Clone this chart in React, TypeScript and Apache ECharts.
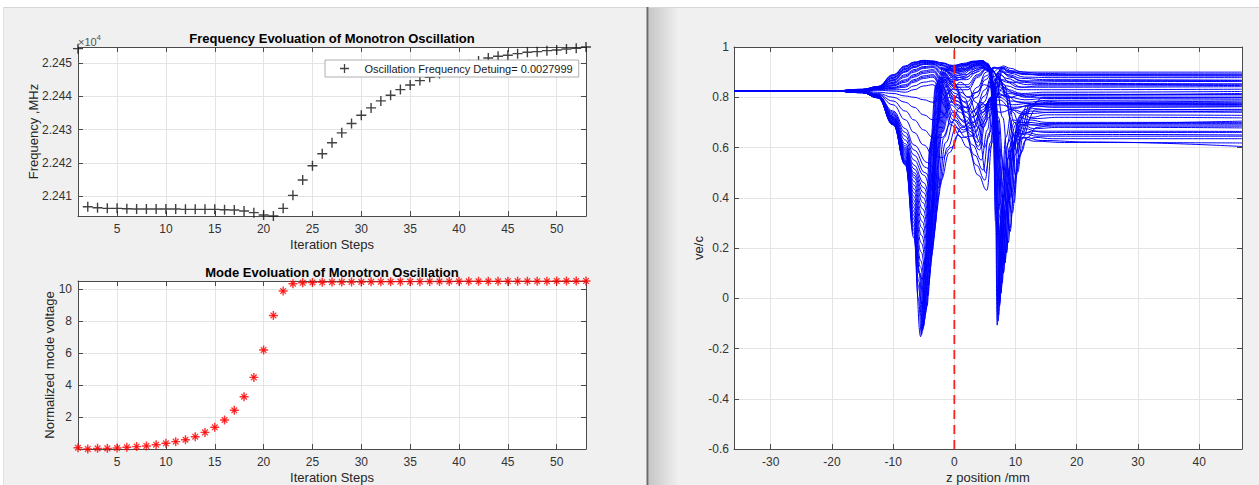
import React, { useEffect, useRef } from 'react';
import * as echarts from 'echarts';

const FONT = '"Liberation Sans", Arial, Helvetica, sans-serif';
const AXIS_COLOR = '#4a4a4a';
const GRID_COLOR = '#e4e4e4';
const LABEL_COLOR = '#333333';

const TITLE_FREQ = 'Frequency Evoluation of Monotron Oscillation';
const TITLE_MODE = 'Mode Evoluation of Monotron Oscillation';
const TITLE_VEL = 'velocity variation';
const LEGEND_LABEL = 'Oscillation Frequency Detuing= 0.0027999';

const ITERATION_STEPS = [1, 2, 3, 4, 5, 6, 7, 8, 9, 10, 11, 12, 13, 14, 15, 16, 17, 18, 19, 20, 21, 22, 23, 24, 25, 26, 27, 28, 29, 30, 31, 32, 33, 34, 35, 36, 37, 38, 39, 40, 41, 42, 43, 44, 45, 46, 47, 48, 49, 50, 51, 52, 53];
const FREQUENCY_MHZ = [22454.3, 22406.8, 22406.5, 22406.3, 22406.3, 22406.2, 22406.1, 22406.1, 22406.1, 22406.1,
  22406.1, 22406.0, 22406.0, 22406.0, 22406.0, 22405.9, 22405.8, 22405.5, 22405.0, 22404.3,
  22404.0, 22406.3, 22410.2, 22414.8, 22419.1, 22422.7, 22426.0, 22429.0, 22431.8, 22434.3,
  22436.5, 22438.6, 22440.3, 22442.0, 22443.4, 22444.7, 22445.7, 22446.8, 22447.8, 22448.7,
  22449.5, 22450.6, 22451.5, 22452.0, 22452.3, 22452.8, 22453.2, 22453.4, 22453.7, 22453.9,
  22454.2, 22454.4, 22454.8];
const MODE_VOLTAGE = [0.10, 0.02, 0.06, 0.06, 0.08, 0.125, 0.17, 0.21, 0.29, 0.375,
  0.48, 0.60, 0.79, 1.06, 1.375, 1.83, 2.44, 3.29, 4.50, 6.21,
  8.375, 9.90, 10.36, 10.42, 10.44, 10.45, 10.46, 10.46, 10.47, 10.47,
  10.48, 10.48, 10.48, 10.49, 10.49, 10.49, 10.50, 10.50, 10.50, 10.51,
  10.51, 10.51, 10.51, 10.51, 10.52, 10.52, 10.52, 10.52, 10.52, 10.53,
  10.53, 10.53, 10.53];

const ITERATION_RANGE = [1, 53];
const ITERATION_TICKS = [5, 10, 15, 20, 25, 30, 35, 40, 45, 50];
const FREQUENCY_RANGE = [22404.0, 22454.8];
const FREQUENCY_TICKS = [22410, 22420, 22430, 22440, 22450];
const MODE_RANGE = [0.02, 10.53];
const MODE_TICKS = [2, 4, 6, 8, 10];
const Z_RANGE = [-36, 47];
const Z_TICKS = [-30, -20, -10, 0, 10, 20, 30, 40];
const VELOCITY_RANGE = [-0.6, 1];
const VELOCITY_TICKS = [-0.6, -0.4, -0.2, 0, 0.2, 0.4, 0.6, 0.8, 1];
const GAP_CENTER_Z = 0;

// velocity curves: shared entry, then flat [z, v, z, v, ...] lists per electron
const ENTRY_VELOCITY = [[-36, 0.825], [-20, 0.825]];

const FIRST_DIP_CURVES = [
  [-15, .818, -12.5, .797, -10, .690, -8, .530, -6.6, .240, -5.5, -.153, -4.8, .15, -4.0, .60, -3.0, .85, -1.8, .915, -0.2, .925, 1.5, .935, 3.2, .944, 4.6, .946, 5.7, .925, 6.3, .75, 6.75, .30, 7.0, -.107, 7.6, .33, 8.4, .64, 9.4, .75, 10.8, .735, 13, .715, 17, .72, 30, .72, 47, .718],
  [-15, .818, -12.5, .797, -10, .691, -8, .532, -6.6, .255, -5.9, .0, -5.35, -.145, -4.65, .17, -3.85, .62, -2.85, .855, -1.5, .912, 0, .922, 1.8, .932, 3.4, .942, 4.8, .943, 5.75, .92, 6.35, .75, 6.8, .32, 7.15, -.09, 7.7, .30, 8.5, .60, 9.5, .71, 11, .70, 13, .69, 18, .695, 47, .705],
  [-15, .818, -12.5, .798, -10, .692, -8, .535, -6.6, .27, -5.9, .05, -5.2, -.13, -4.5, .2, -3.7, .64, -2.7, .86, -1.3, .91, 0.3, .918, 2, .93, 3.6, .94, 4.9, .94, 5.8, .915, 6.4, .75, 6.9, .35, 7.4, -.03, 8.0, .38, 8.8, .62, 9.8, .70, 11.2, .69, 13, .675, 17, .68, 30, .68, 47, .678],
  [-15, .818, -12.5, .798, -10, .693, -8, .537, -6.6, .285, -5.85, .07, -5.1, -.12, -4.4, .21, -3.6, .65, -2.6, .86, -1.1, .907, 0.5, .914, 2.2, .928, 3.8, .937, 5.0, .935, 5.9, .90, 6.5, .72, 7.05, .32, 7.6, .02, 8.2, .36, 9.0, .60, 10.0, .69, 11.5, .675, 13.5, .665, 20, .665, 47, .664],
  [-15, .819, -12.5, .799, -10, .694, -8, .54, -6.6, .30, -5.8, .10, -5.0, -.11, -4.3, .22, -3.5, .66, -2.5, .86, -1, .905, 0.6, .91, 2.3, .925, 3.9, .935, 5.1, .93, 6, .89, 6.6, .70, 7.2, .30, 7.8, .06, 8.4, .35, 9.2, .58, 10.3, .67, 11.8, .66, 14, .65, 20, .652, 47, .65],
  [-15, .819, -12.5, .799, -10, .695, -8, .542, -6.6, .315, -5.7, .10, -4.85, -.085, -4.15, .24, -3.35, .67, -2.35, .86, -0.85, .90, 0.75, .905, 2.45, .92, 4.0, .932, 5.2, .925, 6.05, .885, 6.7, .70, 7.35, .33, 8.0, .10, 8.65, .37, 9.45, .60, 10.5, .70, 12, .70, 14.5, .695, 22, .695, 47, .695],
  [-15, .819, -12.5, .8, -10, .696, -8, .545, -6.6, .33, -5.6, .10, -4.7, -.06, -4.0, .26, -3.2, .68, -2.2, .86, -0.7, .895, 0.9, .90, 2.6, .918, 4.1, .93, 5.3, .92, 6.1, .88, 6.8, .70, 7.5, .35, 8.25, .14, 8.9, .40, 9.7, .62, 10.8, .73, 12.5, .745, 15, .74, 25, .742, 47, .74],
  [-15, .819, -12.5, .8, -10, .697, -8, .547, -6.6, .345, -5.55, .125, -4.6, -.045, -3.9, .28, -3.1, .68, -2.1, .855, -0.55, .888, 1.05, .895, 2.75, .914, 4.2, .928, 5.4, .915, 6.2, .87, 6.9, .70, 7.65, .37, 8.5, .18, 9.15, .41, 9.95, .63, 11.1, .74, 12.8, .755, 15.5, .75, 47, .752],
  [-15, .819, -12.5, .801, -10, .698, -8, .55, -6.6, .36, -5.5, .15, -4.45, -.03, -3.8, .30, -3.0, .68, -2, .85, -0.4, .88, 1.2, .89, 2.9, .91, 4.3, .925, 5.5, .91, 6.3, .86, 7, .70, 7.8, .40, 8.8, .22, 9.4, .42, 10.2, .64, 11.4, .75, 13, .765, 16, .76, 30, .76, 47, .762],
  [-15, .82, -12.5, .801, -10, .699, -8, .555, -6.6, .375, -5.45, .185, -4.3, .01, -3.65, .32, -2.85, .69, -1.85, .845, -0.2, .872, 1.4, .882, 3.0, .902, 4.4, .92, 5.55, .907, 6.35, .86, 7.1, .71, 8.0, .44, 9.1, .28, 9.8, .46, 10.6, .66, 11.8, .765, 13.5, .775, 17, .77, 47, .771],
  [-15, .82, -12.5, .802, -10, .70, -8, .56, -6.6, .39, -5.4, .22, -4.2, .05, -3.5, .34, -2.7, .70, -1.7, .84, 0, .865, 1.6, .875, 3.1, .895, 4.5, .915, 5.6, .905, 6.4, .86, 7.2, .72, 8.2, .47, 9.5, .34, 10.1, .50, 11, .68, 12.3, .77, 14, .785, 18, .78, 47, .78],
  [-15, .82, -12.5, .802, -10, .702, -8, .565, -6.6, .405, -5.35, .25, -4.1, .075, -3.35, .50, -2.25, .86, -0.9, .875, 0.7, .84, 2.2, .80, 3.6, .82, 4.9, .85, 6.0, .84, 7.3, .81, 9.0, .80, 11, .81, 14, .812, 47, .81],
  [-15, .819, -12.5, .803, -10, .705, -8, .57, -6.6, .42, -5.3, .28, -4.0, .10, -3.2, .64, -1.8, .88, -0.2, .86, 1.5, .80, 2.9, .74, 4.3, .78, 5.6, .76, 7.5, .74, 9.8, .755, 12.5, .77, 16, .775, 47, .773],
  [-15, .819, -12.5, .803, -10, .707, -8, .575, -6.6, .435, -5.25, .305, -3.9, .125, -3.05, .65, -1.65, .87, -0.05, .845, 1.65, .78, 3.05, .72, 4.4, .77, 5.65, .77, 7.4, .77, 9.6, .76, 12.2, .765, 16, .765, 47, .764],
  [-15, .819, -12.5, .803, -10, .71, -8, .58, -6.6, .45, -5.2, .33, -3.8, .15, -2.9, .66, -1.5, .86, 0.1, .83, 1.8, .76, 3.2, .70, 4.5, .76, 5.7, .78, 7.3, .80, 9.5, .77, 12, .775, 16, .78, 47, .785],
  [-15, .82, -12.5, .804, -10, .712, -8, .585, -6.6, .465, -5.15, .355, -3.7, .17, -2.75, .66, -1.35, .845, 0.25, .815, 1.95, .74, 3.35, .68, 4.6, .75, 5.75, .785, 7.25, .815, 9.2, .785, 11.7, .78, 15.5, .788, 47, .79],
  [-15, .82, -12.5, .804, -10, .715, -8, .59, -6.6, .48, -5.1, .38, -3.6, .19, -2.6, .66, -1.2, .83, 0.4, .80, 2.1, .72, 3.5, .66, 4.7, .74, 5.8, .79, 7.2, .83, 9, .80, 11.5, .79, 15, .795, 47, .797],
  [-15, .82, -12.5, .804, -10, .717, -8, .595, -6.6, .49, -5.05, .40, -3.5, .215, -2.45, .66, -1.05, .815, 0.55, .785, 2.25, .70, 3.65, .64, 4.8, .73, 5.85, .795, 7.1, .845, 8.85, .815, 11.2, .805, 15, .808, 47, .81],
  [-15, .82, -12.5, .805, -10, .72, -8, .60, -6.6, .50, -5.0, .42, -3.4, .24, -2.3, .66, -0.9, .80, 0.7, .77, 2.4, .68, 3.8, .62, 4.9, .72, 5.9, .80, 7, .86, 8.7, .83, 11, .815, 15, .82, 47, .823],
  [-15, .82, -12.5, .805, -10, .722, -8, .607, -6.6, .515, -5.0, .44, -3.3, .265, -2.15, .66, -0.75, .785, 0.85, .755, 2.55, .665, 3.95, .605, 5.0, .71, 5.95, .80, 7.0, .87, 8.6, .845, 10.7, .83, 14.5, .83, 47, .832],
  [-15, .82, -12.5, .806, -10, .725, -8, .615, -6.6, .53, -5.0, .46, -3.2, .29, -2.0, .66, -0.6, .77, 1.0, .74, 2.7, .65, 4.1, .59, 5.1, .70, 6.0, .80, 7.0, .88, 8.5, .86, 10.5, .84, 14, .84, 47, .842],
  [-15, .82, -12.5, .806, -10, .73, -8, .63, -6.6, .55, -5.0, .49, -3.0, .34, -1.7, .64, -0.3, .74, 1.3, .71, 3.0, .61, 4.4, .55, 5.4, .67, 6.2, .81, 7.1, .895, 8.6, .875, 10.5, .86, 14, .855, 47, .853],
  [-15, .821, -12.5, .807, -10, .735, -8, .645, -6.6, .57, -4.8, .50, -2.8, .39, -1.4, .62, 0, .71, 1.6, .68, 3.3, .57, 4.7, .51, 5.6, .64, 6.4, .82, 7.3, .905, 8.8, .89, 11, .875, 15, .87, 47, .868],
  [-15, .821, -12.5, .807, -10, .74, -8, .66, -6.6, .59, -4.6, .52, -2.5, .44, -1.1, .60, 0.3, .68, 1.9, .64, 3.6, .53, 5.0, .47, 5.9, .62, 6.7, .83, 7.6, .915, 9, .905, 11, .895, 15, .885, 47, .884],
  [-15, .821, -12.5, .808, -10, .745, -8, .675, -6.6, .61, -4.4, .54, -2.2, .47, -0.8, .58, 0.6, .65, 2.2, .60, 3.9, .49, 5.3, .43, 6.2, .62, 7.0, .84, 7.9, .925, 9.2, .915, 11, .90, 14, .895, 20, .893, 47, .893],
];

const SHALLOW_CURVES = [
  [-15, .822, -12.5, .81, -10, .77, -8, .71, -6.6, .66, -5, .61, -3.5, .57, -2, .56, -0.5, .60, 1.2, .68, 2.8, .70, 4.2, .62, 5.1, .50, 5.9, .60, 6.8, .80, 7.8, .90, 9.5, .90, 12, .892, 16, .89, 47, .889],
  [-15, .823, -12.5, .812, -10, .785, -8, .745, -6.6, .71, -5, .67, -3.5, .64, -2, .64, -0.5, .70, 1, .76, 2.5, .76, 3.9, .68, 4.9, .60, 5.8, .66, 6.7, .79, 7.8, .87, 9.5, .86, 12, .85, 16, .85, 47, .852],
  [-15, .824, -12.5, .815, -10, .80, -8, .78, -6.6, .76, -5, .73, -3.5, .71, -2, .72, -0.5, .78, 1, .82, 2.4, .80, 3.7, .73, 4.7, .68, 5.7, .72, 6.8, .80, 8, .84, 10, .815, 12.5, .80, 16, .80, 47, .80],
  [-15, .825, -12.5, .82, -10, .815, -8, .805, -6.6, .80, -5, .79, -3.5, .78, -2, .79, -0.5, .83, 1, .86, 2.3, .84, 3.5, .78, 4.6, .74, 5.6, .76, 6.9, .80, 8.3, .81, 10.5, .78, 13, .77, 16, .77, 47, .768],
];

const ACCELERATED_CURVES = [
  [-15, .832, -12.5, .843, -10, .89, -8, .925, -6.6, .94, -5, .947, -3.5, .944, -2, .937, -0.3, .927, 1.5, .932, 3.2, .942, 4.5, .946, 5.5, .935, 6.2, .82, 6.7, .45, 7.2, -.07, 7.8, .30, 8.6, .55, 9.6, .65, 11, .64, 13, .625, 18, .62, 47, .618],
  [-15, .8315, -12.5, .8425, -10, .8875, -8, .9225, -6.6, .9385, -5, .946, -3.5, .9435, -2, .936, -0.25, .924, 1.55, .929, 3.25, .94, 4.6, .945, 5.55, .932, 6.25, .825, 6.8, .47, 7.4, -.02, 8.0, .30, 8.8, .56, 9.9, .66, 11.4, .655, 13.5, .645, 20, .645, 47, .645],
  [-15, .831, -12.5, .842, -10, .885, -8, .92, -6.6, .937, -5, .945, -3.5, .943, -2, .935, -0.2, .92, 1.6, .925, 3.3, .938, 4.7, .943, 5.6, .93, 6.3, .83, 6.9, .50, 7.6, .02, 8.2, .30, 9.0, .52, 10.2, .63, 11.8, .64, 14, .628, 22, .622, 47, .604],
  [-15, .831, -12.5, .841, -10, .88, -8, .915, -6.6, .933, -5, .942, -3.5, .941, -2, .93, 0, .912, 1.7, .915, 3.4, .932, 4.8, .94, 5.7, .925, 6.4, .83, 7.1, .52, 8.0, .10, 8.6, .38, 9.4, .60, 10.6, .72, 12.2, .71, 15, .70, 25, .70, 47, .70],
  [-15, .8305, -12.5, .8405, -10, .8775, -8, .9125, -6.6, .9305, -5, .94, -3.5, .9395, -2, .9275, 0.05, .906, 1.75, .91, 3.45, .928, 4.85, .938, 5.75, .922, 6.45, .835, 7.2, .54, 8.25, .14, 8.85, .39, 9.65, .59, 10.8, .69, 12.4, .69, 15, .685, 47, .685],
  [-15, .83, -12.5, .84, -10, .875, -8, .91, -6.6, .928, -5, .938, -3.5, .938, -2, .925, 0.1, .90, 1.8, .905, 3.5, .925, 4.9, .935, 5.8, .92, 6.5, .84, 7.3, .55, 8.5, .18, 9.1, .40, 9.9, .57, 11, .65, 12.6, .665, 15, .66, 25, .66, 47, .66],
  [-15, .83, -12.5, .839, -10, .87, -8, .905, -6.6, .923, -5, .934, -3.5, .935, -2, .918, 0.2, .885, 1.9, .89, 3.6, .915, 5, .93, 5.9, .915, 6.6, .84, 7.5, .58, 9.1, .265, 9.7, .42, 10.5, .56, 11.7, .63, 13.3, .64, 16, .635, 47, .635],
  [-15, .8295, -12.5, .8385, -10, .8675, -8, .9025, -6.6, .9205, -5, .932, -3.5, .933, -2, .914, 0.25, .878, 1.95, .88, 3.65, .908, 5, .925, 5.95, .915, 6.8, .86, 7.9, .72, 9.0, .45, 9.75, .38, 10.3, .50, 11.2, .64, 12.6, .72, 15, .73, 47, .728],
  [-15, .829, -12.5, .838, -10, .865, -8, .90, -6.6, .918, -5, .93, -3.5, .931, -2, .91, 0.3, .87, 2, .87, 3.7, .90, 5, .92, 6, .915, 7, .89, 8.2, .85, 9.1, .72, 10, .49, 10.9, .58, 11.9, .64, 13.5, .68, 16, .69, 47, .69],
  [-15, .829, -12.5, .837, -10, .86, -8, .89, -6.6, .91, -5, .922, -3.5, .925, -2, .90, 0.4, .85, 2.1, .85, 3.8, .89, 5.1, .915, 6.1, .91, 7.2, .88, 8.5, .80, 9.5, .66, 10.3, .58, 11.2, .66, 12.5, .76, 14.5, .80, 18, .80, 47, .80],
  [-15, .8285, -12.5, .8365, -10, .8575, -8, .885, -6.6, .905, -5, .9185, -3.5, .9215, -2, .895, 0.45, .84, 2.15, .84, 3.85, .885, 5.15, .912, 6.15, .907, 7.25, .875, 8.6, .815, 9.6, .74, 10.5, .70, 11.5, .73, 13, .77, 16, .775, 47, .776],
  [-15, .828, -12.5, .836, -10, .855, -8, .88, -6.6, .90, -5, .915, -3.5, .918, -2, .89, 0.5, .83, 2.2, .83, 3.9, .88, 5.2, .91, 6.2, .905, 7.3, .87, 8.7, .80, 9.8, .70, 10.8, .65, 11.8, .70, 13.2, .75, 16, .75, 47, .75],
  [-15, .828, -12.5, .835, -10, .85, -8, .87, -6.6, .89, -5, .905, -3.5, .91, -2, .875, 0.3, .80, 2, .78, 3.8, .84, 5.2, .90, 6.5, .92, 7.6, .91, 9, .885, 10.8, .865, 13, .86, 17, .862, 47, .863],
  [-15, .8275, -12.5, .8345, -10, .8475, -8, .865, -6.6, .885, -5, .90, -3.5, .905, -2, .868, 0.25, .785, 1.95, .76, 3.7, .82, 5.15, .885, 6.5, .917, 7.7, .915, 9.2, .895, 11.5, .88, 16, .878, 47, .878],
  [-15, .827, -12.5, .834, -10, .845, -8, .86, -6.6, .88, -5, .895, -3.5, .90, -2, .86, 0.2, .77, 1.9, .74, 3.6, .80, 5.1, .87, 6.5, .915, 7.8, .92, 9.5, .905, 12, .90, 16, .90, 47, .90],
  [-15, .827, -12.5, .833, -10, .84, -8, .85, -6.6, .87, -5, .885, -3.5, .89, -2, .845, 0, .74, 1.7, .70, 3.4, .75, 5, .83, 6.3, .90, 7.6, .92, 9.2, .90, 11.5, .89, 16, .888, 47, .888],
  [-15, .8265, -12.5, .832, -10, .8375, -8, .845, -6.6, .865, -5, .88, -3.5, .885, -2, .838, -0.1, .725, 1.6, .685, 3.3, .725, 4.9, .805, 6.25, .88, 7.55, .905, 9.1, .88, 11.2, .865, 15, .866, 47, .866],
  [-15, .826, -12.5, .831, -10, .835, -8, .84, -6.6, .86, -5, .875, -3.5, .88, -2, .83, -0.2, .71, 1.5, .67, 3.2, .70, 4.8, .78, 6.2, .86, 7.5, .89, 9, .86, 11, .84, 14, .845, 47, .847],
  [-15, .826, -12.5, .83, -10, .83, -8, .83, -6.6, .845, -5, .86, -3.5, .865, -2, .815, -0.4, .70, 1.2, .66, 3, .68, 4.6, .74, 6, .80, 7.4, .85, 9.2, .82, 11.5, .80, 15, .81, 47, .815],
  [-15, .825, -12.5, .828, -10, .825, -8, .82, -6.6, .83, -5, .845, -3.5, .85, -2, .80, -0.6, .69, 1.2, .64, 2.8, .645, 4.4, .69, 5.8, .75, 7.3, .79, 9.5, .75, 12, .735, 16, .74, 47, .745],
];

const PLUS_PATH = 'path://M4.3,0H5.7V4.3H10V5.7H5.7V10H4.3V5.7H0V4.3H4.3Z';
const STAR_ARM_PATH = 'path://M4.2,0H5.8V4.2H10V5.8H5.8V10H4.2V5.8H0V4.2H4.2Z';

function makeAxes(gridIndex: number, range: number[], ticks: number[], primary: string, mirror: string, fmt: (v: number) => string, margin: number) {
  const base = {
    type: 'value',
    gridIndex,
    min: range[0],
    max: range[1],
    axisLine: { show: true, onZero: false, lineStyle: { color: AXIS_COLOR, width: 1 } },
    axisTick: { show: true, inside: true, length: 5, customValues: ticks, lineStyle: { color: AXIS_COLOR, width: 1 } },
  };
  return [
    {
      ...base,
      position: primary,
      axisLabel: { show: true, customValues: ticks, formatter: fmt, color: LABEL_COLOR, fontSize: 12, fontFamily: FONT, margin },
      splitLine: { show: true, lineStyle: { color: GRID_COLOR, width: 1 } },
    },
    {
      ...base,
      position: mirror,
      axisLabel: { show: false },
      splitLine: { show: false },
    },
  ];
}

function txt(x: number, y: number, text: string, size: number, weight: string, color: string, rotation = 0, align = 'center') {
  return {
    type: 'text',
    x,
    y,
    rotation,
    z: 10,
    style: {
      text,
      x: 0,
      y: 0,
      fill: color,
      font: `${weight} ${size}px ${FONT}`,
      textAlign: align,
      align,
      textVerticalAlign: 'middle',
      verticalAlign: 'middle',
    },
  };
}

function buildOption() {
  const fmtInt = (v: number) => String(v);
  const fmtFreq = (v: number) => (v / 1e4).toFixed(3);
  const fmtVel = (v: number) => String(Math.round(v * 10) / 10);

  const xAxis = [
    ...makeAxes(0, ITERATION_RANGE, ITERATION_TICKS, 'bottom', 'top', fmtInt, 7),
    ...makeAxes(1, ITERATION_RANGE, ITERATION_TICKS, 'bottom', 'top', fmtInt, 7),
    ...makeAxes(2, Z_RANGE, Z_TICKS, 'bottom', 'top', fmtInt, 7),
  ];
  const yAxis = [
    ...makeAxes(0, FREQUENCY_RANGE, FREQUENCY_TICKS, 'left', 'right', fmtFreq, 6),
    ...makeAxes(1, MODE_RANGE, MODE_TICKS, 'left', 'right', fmtInt, 6),
    ...makeAxes(2, VELOCITY_RANGE, VELOCITY_TICKS, 'left', 'right', fmtVel, 5),
  ];

  const velocityCurves = [...FIRST_DIP_CURVES, ...SHALLOW_CURVES, ...ACCELERATED_CURVES];
  const blueSeries = velocityCurves.map((flat) => {
    const data: number[][] = ENTRY_VELOCITY.map((p) => p.slice());
    for (let j = 0; j + 1 < flat.length; j += 2) data.push([flat[j], flat[j + 1]]);
    return {
      type: 'line',
      xAxisIndex: 4,
      yAxisIndex: 4,
      data,
      showSymbol: false,
      symbol: 'none',
      smooth: 0.45,
      smoothMonotone: 'x',
      silent: true,
      lineStyle: { color: '#0000ff', width: 1 },
      z: 2,
    };
  });

  const gridBase = { show: true, backgroundColor: '#ffffff', borderWidth: 0, containLabel: false, outerBoundsMode: 'none' };

  return {
    animation: false,
    backgroundColor: '#f0f0f0',
    textStyle: { fontFamily: FONT },
    grid: [
      { ...gridBase, left: 78, top: 47, width: 508, height: 169 },
      { ...gridBase, left: 78, top: 281, width: 508, height: 168 },
      { ...gridBase, left: 734, top: 47, width: 508, height: 402 },
    ],
    xAxis,
    yAxis,
    legend: {
      data: [{ name: LEGEND_LABEL, icon: PLUS_PATH }],
      left: 325,
      top: 60,
      z: 20,
      itemWidth: 16,
      itemHeight: 9,
      padding: [3, 6, 3, 15],
      backgroundColor: '#ffffff',
      borderColor: '#9a9a9a',
      borderWidth: 0.8,
      selectedMode: false,
      textStyle: { fontSize: 11, fontFamily: FONT, color: '#1a1a1a', padding: [0, 0, 0, 7] },
    },
    series: [
      {
        type: 'scatter',
        name: LEGEND_LABEL,
        xAxisIndex: 0,
        yAxisIndex: 0,
        data: ITERATION_STEPS.map((s, i) => [s, FREQUENCY_MHZ[i]]),
        symbol: PLUS_PATH,
        symbolSize: 10,
        itemStyle: { color: '#111111' },
        z: 2,
      },
      {
        type: 'scatter',
        name: 'mode-plus',
        xAxisIndex: 2,
        yAxisIndex: 2,
        data: ITERATION_STEPS.map((s, i) => [s, MODE_VOLTAGE[i]]),
        symbol: STAR_ARM_PATH,
        symbolSize: 9,
        itemStyle: { color: '#ff0000' },
        z: 5,
      },
      {
        type: 'scatter',
        name: 'mode-cross',
        xAxisIndex: 2,
        yAxisIndex: 2,
        data: ITERATION_STEPS.map((s, i) => [s, MODE_VOLTAGE[i]]),
        symbol: STAR_ARM_PATH,
        symbolRotate: 45,
        symbolSize: 8,
        itemStyle: { color: '#ff0000' },
        z: 5,
      },
      ...blueSeries,
      {
        type: 'line',
        name: 'gap-center',
        xAxisIndex: 4,
        yAxisIndex: 4,
        data: [[GAP_CENTER_Z, VELOCITY_RANGE[0]], [GAP_CENTER_Z, VELOCITY_RANGE[1]]],
        symbol: 'none',
        silent: true,
        lineStyle: { color: '#ff2020', width: 1.8, type: [9, 6] },
        z: 4,
      },
    ],
    graphic: [
      { type: 'rect', z: 1, shape: { x: 0, y: 0, width: 1259, height: 7 }, style: { fill: '#ffffff' } },
      { type: 'rect', z: 1, shape: { x: 0, y: 0, width: 3, height: 485 }, style: { fill: '#ffffff' } },
      { type: 'line', z: 1, shape: { x1: 3, y1: 7.5, x2: 1259, y2: 7.5 }, style: { stroke: '#d6d6d6', lineWidth: 1 } },
      { type: 'line', z: 1, shape: { x1: 3.5, y1: 7, x2: 3.5, y2: 485 }, style: { stroke: '#e0e0e0', lineWidth: 1 } },
      {
        type: 'rect', z: 1, shape: { x: 648.5, y: 8, width: 30, height: 477 },
        style: { fill: new echarts.graphic.LinearGradient(0, 0, 1, 0, [{ offset: 0, color: '#c6c6c6' }, { offset: 1, color: '#f0f0f0' }]) },
      },
      { type: 'rect', z: 1, shape: { x: 646.5, y: 7, width: 2, height: 478 }, style: { fill: '#6a6a6a' } },
      txt(332, 38.7, TITLE_FREQ, 13, 'bold', '#000000'),
      txt(332, 272, TITLE_MODE, 13, 'bold', '#000000'),
      txt(988, 38.7, TITLE_VEL, 13, 'bold', '#000000'),
      txt(332, 244.7, 'Iteration Steps', 13, 'normal', '#262626'),
      txt(332, 477.7, 'Iteration Steps', 13, 'normal', '#262626'),
      txt(988, 477.7, 'z position /mm', 13, 'normal', '#262626'),
      txt(33, 131.5, 'Frequency ,MHz', 13, 'normal', '#262626', Math.PI / 2),
      txt(49.5, 365, 'Normalized mode voltage', 13, 'normal', '#262626', Math.PI / 2),
      txt(698, 248, 've/c', 13, 'normal', '#262626', Math.PI / 2),
      txt(78, 41.5, '×10', 11, 'normal', '#555555', 0, 'left'),
      txt(96.5, 37.5, '4', 8, 'normal', '#555555', 0, 'left'),
    ],
  };
}

export default function App() {
  const ref = useRef<HTMLDivElement>(null);
  useEffect(() => {
    if (!ref.current) return;
    const chart = echarts.init(ref.current, null, { renderer: 'svg', width: 1259, height: 485 });
    chart.setOption(buildOption() as any);
    return () => {
      chart.dispose();
    };
  }, []);
  return <div ref={ref} style={{ position: 'fixed', left: 0, top: 0, width: 1259, height: 485 }} />;
}
